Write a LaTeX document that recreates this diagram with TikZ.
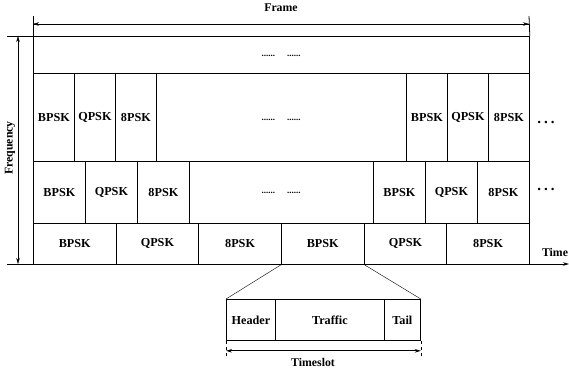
\documentclass[tikz,border=0pt]{standalone}
\usepackage{fontspec}
\setmainfont{Liberation Serif}
\usepackage{tikz}
\usetikzlibrary{calc,arrows.meta}
\tikzset{>={Stealth[length=6pt,width=3.5pt]}}
\tikzset{cell/.style={draw,line width=0.8pt,anchor=north west,inner sep=0pt,font=\fontsize{12.2}{14}\bfseries},
  dotsgap/.style={font=\fontsize{9}{11}\bfseries},
  bigdots/.style={font=\fontsize{15}{17}\bfseries,anchor=base},
  lbl/.style={font=\fontsize{11.8}{14}\bfseries},
  axisline/.style={line width=0.8pt}}

\begin{document}
\begin{tikzpicture}[x=1pt,y=-1pt]
    \useasboundingbox (0,0) rectangle (569,372);

    % top row
    \node[cell,minimum width=496pt,minimum height=37pt] at (33,36) (r0) {};
    \node[dotsgap] at (281,56) (d0) {......\hspace{12pt}......};

    % second row
    \foreach \x/\t [count=\i] in {33/BPSK,74/QPSK,115/8PSK,406/BPSK,447/QPSK,488/8PSK}
        \node[cell,minimum width=41pt,minimum height=88pt] at (\x,73) (a\i) {\t};
    \node[cell,minimum width=250pt,minimum height=88pt] at (156,73) (amid) {};
    \node[dotsgap] at (281,120) (d1) {......\hspace{12pt}......};
    \node[bigdots] at (546,123) (e1) {.\hspace{3pt}.\hspace{3pt}.};

    % third row
    \foreach \x/\t [count=\i] in {33/BPSK,85/QPSK,137/8PSK,373/BPSK,425/QPSK,477/8PSK}
        \node[cell,minimum width=52pt,minimum height=62pt] at (\x,161) (b\i) {\t};
    \node[cell,minimum width=184pt,minimum height=62pt] at (189,161) (bmid) {};
    \node[dotsgap] at (281,193) (d2) {......\hspace{12pt}......};
    \node[bigdots] at (546,190) (e2) {.\hspace{3pt}.\hspace{3pt}.};

    % bottom row
    \foreach \t [count=\i] in {BPSK,QPSK,8PSK,BPSK,QPSK,8PSK}
        \node[cell,minimum width=82.67pt,minimum height=41pt] at ({33+(\i-1)*82.67},223) (c\i) {\t};

    % axes
    \coordinate (fl) at (33,16);
    \coordinate (fr) at (529,16);
    \coordinate (tl) at (7,36);
    \coordinate (bl) at (7,264);
    \coordinate (br) at (569,264);
    \draw[axisline] (fl) -- (r0.north west);
    \draw[axisline] (fr) -- (r0.north east);
    \draw[axisline] (tl) -- (r0.north west);
    \draw[axisline,->] (bl) -- (br);
    \draw[->] ($(fl)+(0,8)$) coordinate (fa) -- ($(fr)+(0,8)$) coordinate (fb);
    \draw[->] (fb) -- (fa);
    \node[lbl] at (281,8) (frame) {Frame};
    \draw[<->] (18,36) coordinate (qa) -- (18,264) coordinate (qb);
    \node[lbl,rotate=90] at (10,148) (freq) {Frequency};
    \node[lbl] at (555,252) (time) {Time};

    % timeslot
    \node[cell,minimum width=49pt,minimum height=41pt] at (226,299) (hd) {Header};
    \node[cell,minimum width=109pt,minimum height=41pt] at (275,299) (tf) {Traffic};
    \node[cell,minimum width=36pt,minimum height=41pt] at (384,299) (tl2) {Tail};
    \draw (c4.south west) -- (hd.north west);
    \draw (c4.south east) -- (tl2.north east);
    \draw[dashed] (hd.south west) -- ++(0,17) coordinate (sa);
    \draw[dashed] (tl2.south east) -- ++(0,17) coordinate (sb);
    \draw[<->,line width=0.8pt] ($(hd.south west)+(0,10)$) -- ($(tl2.south east)+(0,10)$);
    \node[lbl] at (313,362) (ts) {Timeslot};
\end{tikzpicture}
\end{document}
